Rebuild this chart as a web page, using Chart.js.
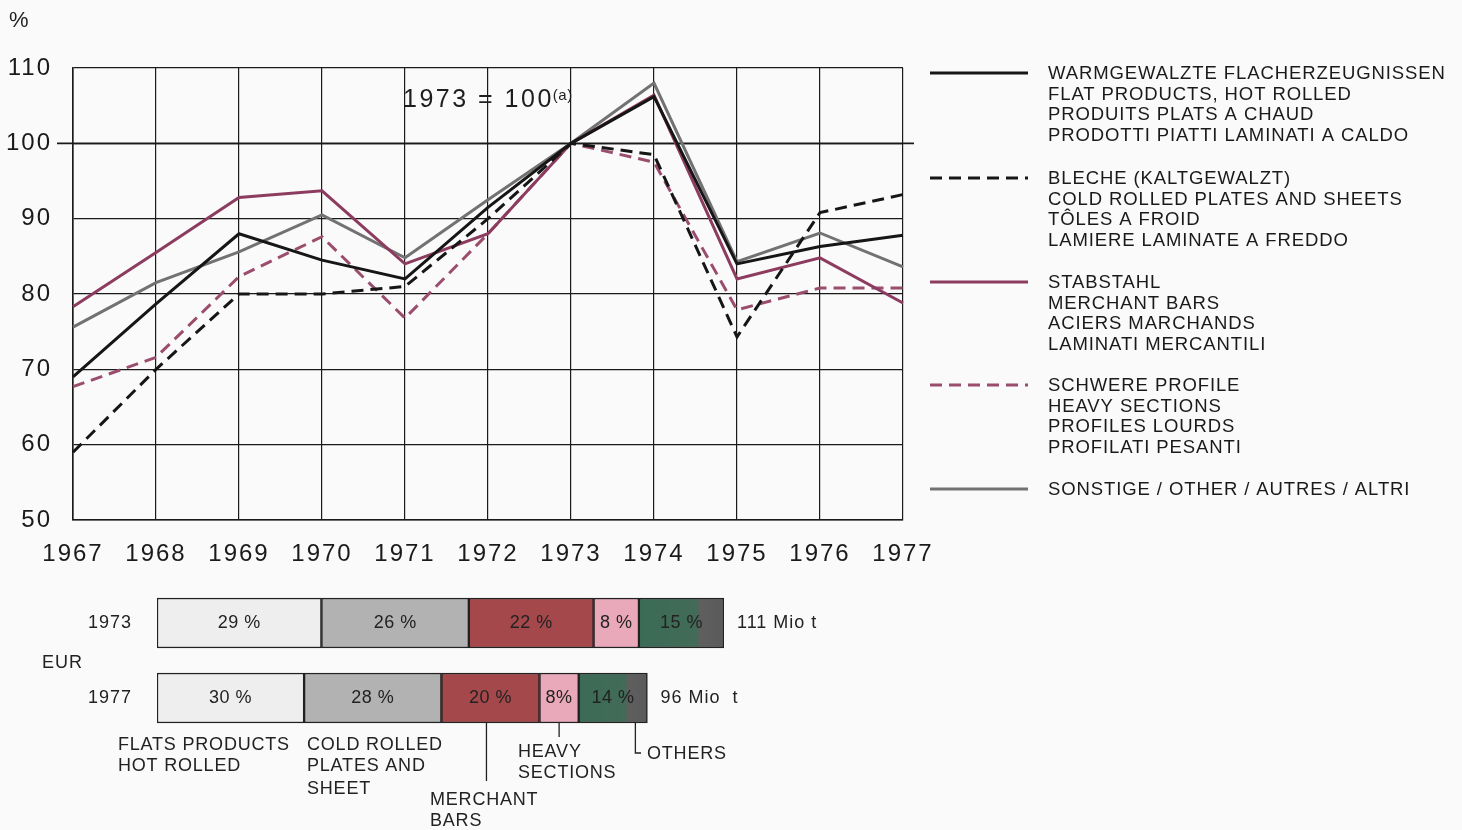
<!DOCTYPE html>
<html>
<head>
<meta charset="utf-8">
<script src="https://cdn.jsdelivr.net/npm/chart.js@4.4.1/dist/chart.umd.min.js"></script>
<style>
  html, body { margin: 0; padding: 0; background: #fafafa; }
  #wrap { position: relative; width: 1462px; height: 830px; }
  canvas { position: absolute; left: 0; top: 0; }
</style>
</head>
<body>
<div id="wrap">
  <canvas id="lines" width="1462" height="830"></canvas>
  <canvas id="bars" width="1462" height="830"></canvas>
</div>
<script>
// Index values, 1973 = 100
const years = ['1967', '1968', '1969', '1970', '1971', '1972', '1973', '1974', '1975', '1976', '1977'];
const flatHotRolled = [69, 78.7, 88, 84.5, 82, 91.5, 100, 106.2, 84, 86.3, 87.8];
const coldRolled = [59, 70, 80, 80, 81, 90, 100, 98.5, 74.3, 90.8, 93.2];
const merchantBars = [78.3, 85.5, 92.8, 93.7, 84, 88, 100, 106.4, 82, 84.8, 78.8];
const heavySections = [67.7, 71.6, 82.3, 87.6, 76.8, 88, 100, 97.5, 77.9, 80.8, 80.8];
const otherProducts = [75.6, 81.5, 85.6, 90.5, 84.8, 92.5, 100, 108, 84.3, 88.1, 83.6];
const yMin = 50, yMax = 110, yStep = 10;

// legend texts (four languages per product)
const legendTexts = [
  ['WARMGEWALZTE FLACHERZEUGNISSEN', 'FLAT PRODUCTS, HOT ROLLED', 'PRODUITS PLATS A CHAUD', 'PRODOTTI PIATTI LAMINATI A CALDO'],
  ['BLECHE (KALTGEWALZT)', 'COLD ROLLED PLATES AND SHEETS', 'TÔLES A FROID', 'LAMIERE LAMINATE A FREDDO'],
  ['STABSTAHL', 'MERCHANT BARS', 'ACIERS MARCHANDS', 'LAMINATI MERCANTILI'],
  ['SCHWERE PROFILE', 'HEAVY SECTIONS', 'PROFILES LOURDS', 'PROFILATI PESANTI'],
  ['SONSTIGE / OTHER / AUTRES / ALTRI']
];

// Production shares (EUR)
const shareYears = ['1973', '1977'];
const totalsMio = [111, 96];
const totalLabels = ['111 Mio t', '96 Mio  t'];
const shares1973 = [29, 26, 22, 8, 15];
const shares1977 = [30, 28, 20, 8, 14];
const shareLabels1973 = ['29 %', '26 %', '22 %', '8 %', '15 %'];
const shareLabels1977 = ['30 %', '28 %', '20 %', '8%', '14 %'];
const productNames = ['Flat products hot rolled', 'Cold rolled plates and sheet', 'Merchant bars', 'Heavy sections', 'Others'];
const shareColors = ['#eeeeee', '#b2b2b2', '#a5484b', '#eaa9bb', '#3d6b57'];

const FONT = "'Liberation Sans', Arial, sans-serif";
Chart.defaults.font.family = FONT;
Chart.defaults.color = '#222';

// ---------- line chart ----------
const linesExtras = {
  id: 'linesExtras',
  beforeDraw(chart) {
    chart.ctx.letterSpacing = '2px';
  },
  beforeDatasetsDraw(chart) {
    const ctx = chart.ctx;
    const y100 = chart.scales.y.getPixelForValue(100);
    ctx.save();
    ctx.strokeStyle = '#1a1a1a';
    ctx.lineWidth = 1.6;
    ctx.beginPath();
    ctx.moveTo(57, y100);
    ctx.lineTo(914, y100);
    ctx.stroke();
    ctx.restore();
  },
  afterDraw(chart) {
    const ctx = chart.ctx;
    ctx.save();
    ctx.fillStyle = '#1e1e1e';
    ctx.textBaseline = 'middle';
    ctx.textAlign = 'left';
    // unit
    ctx.letterSpacing = '0px';
    ctx.font = '22px ' + FONT;
    ctx.fillText('%', 9, 21);
    // base year note
    ctx.letterSpacing = '2.5px';
    ctx.font = '25px ' + FONT;
    const note = '1973 = 100';
    ctx.fillText(note, 403, 100);
    const w = ctx.measureText(note).width;
    ctx.letterSpacing = '0.5px';
    ctx.font = '15px ' + FONT;
    ctx.fillText('(a)', 403 + w - 1, 96);

    // legend
    const startY = [74, 179, 283, 386, 490];
    chart.data.datasets.forEach((ds, i) => {
      const y = startY[i];
      ctx.strokeStyle = ds.borderColor;
      ctx.lineWidth = 3;
      ctx.setLineDash(ds.borderDash || []);
      ctx.beginPath();
      ctx.moveTo(930, y - 1);
      ctx.lineTo(1028, y - 1);
      ctx.stroke();
      ctx.setLineDash([]);
      ctx.font = '18.5px ' + FONT;
      ctx.letterSpacing = '0.9px';
      ctx.fillStyle = '#1a1a1a';
      legendTexts[i].forEach((t, j) => {
        ctx.fillText(t, 1048, y + j * 20.7);
      });
    });
    ctx.restore();
  }
};

new Chart(document.getElementById('lines'), {
  type: 'line',
  data: {
    labels: years,
    datasets: [
      { label: 'Flat products, hot rolled', data: flatHotRolled, borderColor: '#161616', borderWidth: 3 },
      { label: 'Cold rolled plates and sheets', data: coldRolled, borderColor: '#161616', borderWidth: 3, borderDash: [12, 7] },
      { label: 'Merchant bars', data: merchantBars, borderColor: '#8c3c5e', borderWidth: 3 },
      { label: 'Heavy sections', data: heavySections, borderColor: '#9a4d6d', borderWidth: 3, borderDash: [12, 7] },
      { label: 'Other', data: otherProducts, borderColor: '#727272', borderWidth: 3 }
    ]
  },
  options: {
    responsive: false,
    animation: false,
    devicePixelRatio: 1,
    layout: { padding: { left: 0, right: 1462 - 903, top: 68, bottom: 830 - 520 - 60 } },
    elements: { point: { radius: 0 }, line: { tension: 0, fill: false } },
    plugins: { legend: { display: false }, tooltip: { enabled: false } },
    scales: {
      x: {
        grid: { color: '#1a1a1a', lineWidth: 1.2, drawTicks: false },
        border: { color: '#1a1a1a', width: 1.6 },
        ticks: { font: { size: 24 }, color: '#1a1a1a', padding: 20, maxRotation: 0 },
        afterFit(scale) { scale.height = 60; }
      },
      y: {
        min: yMin, max: yMax,
        grid: { color: '#1a1a1a', lineWidth: 1.2, drawTicks: false },
        border: { color: '#1a1a1a', width: 1.6 },
        ticks: { stepSize: yStep, font: { size: 24 }, color: '#1a1a1a', padding: 21 },
        afterFit(scale) { scale.width = 73; }
      }
    }
  },
  plugins: [linesExtras]
});

// ---------- share bars ----------
const shareTable = [shares1973, shares1977];
const shareLabelTable = [shareLabels1973, shareLabels1977];

function othersGradient(ctx) {
  const chart = ctx.chart;
  if (!chart.chartArea) return shareColors[4];
  const xs = chart.scales.x;
  const i = ctx.dataIndex;
  const end = totalsMio[i];
  const start = end * (1 - shareTable[i][4] / 100);
  const g = chart.ctx.createLinearGradient(xs.getPixelForValue(start), 0, xs.getPixelForValue(end), 0);
  g.addColorStop(0, '#3b6b56');
  g.addColorStop(0.68, '#426b58');
  g.addColorStop(0.71, '#5f5f5f');
  g.addColorStop(1, '#5a5a5a');
  return g;
}

const barsExtras = {
  id: 'barsExtras',
  beforeDraw(chart) {
    chart.ctx.letterSpacing = '1px';
  },
  afterDraw(chart) {
    const ctx = chart.ctx;
    ctx.save();
    ctx.textBaseline = 'middle';
    ctx.fillStyle = '#222';
    // percentage labels inside segments
    ctx.font = '18px ' + FONT;
    ctx.letterSpacing = '0.5px';
    ctx.textAlign = 'center';
    chart.data.datasets.forEach((ds, d) => {
      chart.getDatasetMeta(d).data.forEach((bar, i) => {
        ctx.fillText(shareLabelTable[i][d], (bar.x + bar.base) / 2, bar.y);
      });
    });
    // totals
    ctx.textAlign = 'left';
    ctx.letterSpacing = '1px';
    const last = chart.getDatasetMeta(chart.data.datasets.length - 1).data;
    last.forEach((bar, i) => {
      ctx.fillText(totalLabels[i], bar.x + 13, bar.y);
    });
    ctx.fillText('EUR', 42, 663);

    // captions under the 1977 bar
    ctx.font = '18px ' + FONT;
    ctx.letterSpacing = '0.8px';
    const b = i => chart.getDatasetMeta(i).data[1];
    const bottom = b(0).y + 25;
    ctx.fillText('FLATS PRODUCTS', 118, 745);
    ctx.fillText('HOT ROLLED', 118, 766);
    ctx.fillText('COLD ROLLED', 307, 745);
    ctx.fillText('PLATES AND', 307, 766);
    ctx.fillText('SHEET', 307, 789);
    ctx.fillText('MERCHANT', 430, 800);
    ctx.fillText('BARS', 430, 821);
    ctx.fillText('HEAVY', 518, 752);
    ctx.fillText('SECTIONS', 518, 773);
    ctx.fillText('OTHERS', 647, 754);

    ctx.strokeStyle = '#222';
    ctx.lineWidth = 1.3;
    ctx.beginPath();
    const mx = (b(2).x + b(2).base) / 2 - 4;
    ctx.moveTo(mx, bottom); ctx.lineTo(mx, 781);
    const hx = (b(3).x + b(3).base) / 2;
    ctx.moveTo(hx, bottom); ctx.lineTo(hx, 737);
    const ox = b(4).x - 12;
    ctx.moveTo(ox, bottom); ctx.lineTo(ox, 753); ctx.lineTo(641, 753);
    ctx.stroke();
    ctx.restore();
  }
};

new Chart(document.getElementById('bars'), {
  type: 'bar',
  data: {
    labels: shareYears,
    datasets: productNames.map((name, d) => ({
      label: name,
      data: totalsMio.map((t, i) => t * shareTable[i][d] / 100),
      backgroundColor: d === 4 ? othersGradient : shareColors[d],
      borderColor: '#222',
      borderWidth: 1.5,
      borderSkipped: false,
      barThickness: 50
    }))
  },
  options: {
    indexAxis: 'y',
    responsive: false,
    animation: false,
    devicePixelRatio: 1,
    layout: { padding: { left: 0, right: 1462 - 724, top: 585.5, bottom: 94.5 } },
    plugins: { legend: { display: false }, tooltip: { enabled: false } },
    scales: {
      x: { stacked: true, min: 0, max: 111, display: false },
      y: {
        stacked: true,
        grid: { display: false },
        border: { display: false },
        ticks: { font: { size: 18 }, color: '#222', padding: 17 },
        afterFit(scale) { scale.width = 157; }
      }
    }
  },
  plugins: [barsExtras]
});
</script>
</body>
</html>
